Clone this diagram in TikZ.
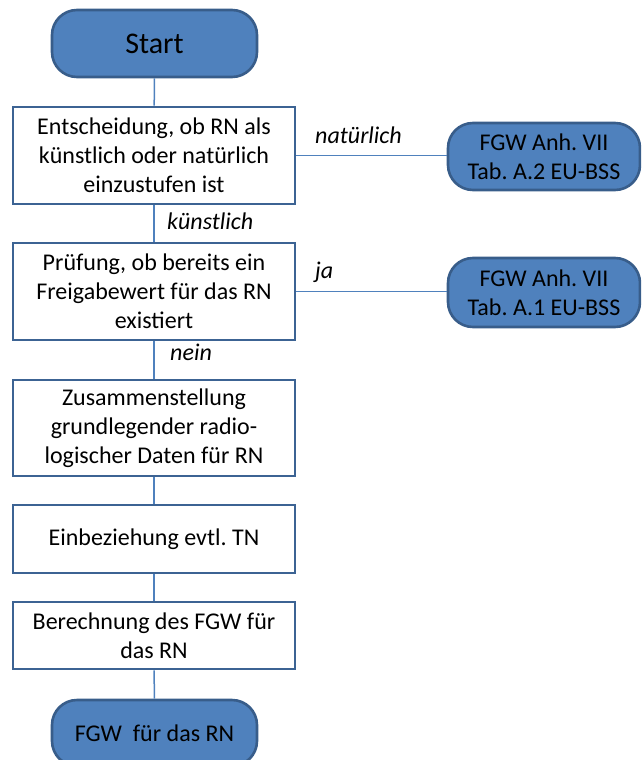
\documentclass[tikz,border=0pt]{standalone}
\usepackage{fontspec}
\setmainfont{Carlito}
\frenchspacing
\definecolor{accent}{HTML}{4F81BD}
\definecolor{accentdark}{HTML}{385D8A}
\definecolor{boxline}{HTML}{3C6393}
\begin{document}
\begin{tikzpicture}[x=1pt,y=-1pt,
  terminal/.style={draw=accentdark, line width=2.6pt, fill=accent, rounded corners=25pt,
    minimum width=205pt, minimum height=67pt, align=center, inner sep=0pt,
    font=\fontsize{24}{29}\selectfont},
  stepbox/.style={draw=boxline, line width=2.8pt, fill=white,
    minimum width=282pt, align=center, inner sep=0pt,
    font=\fontsize{24}{29}\selectfont},
  link/.style={draw=accent, line width=1.5pt},
  branch/.style={anchor=base west, inner sep=0pt, font=\fontsize{24}{29}\selectfont\itshape}]
\clip (0,0) rectangle (641,760);
\useasboundingbox (0,0) rectangle (641,760);

% main column
\node[terminal, font=\fontsize{30}{36}\selectfont] (start) at (154.5,43.5) {Start};
\node[stepbox, minimum height=97pt] (decide) at (154,155.5)
  {Entscheidung, ob RN als\\künstlich oder natürlich\\einzustufen ist};
\node[stepbox, minimum height=97pt] (check) at (154,291.5)
  {Prüfung, ob bereits ein\\Freigabewert für das RN\\existiert};
\node[stepbox, minimum height=96pt] (collect) at (154,428)
  {Zusammenstellung\\grundlegender radio-\\logischer Daten für RN};
\node[stepbox, minimum height=68pt] (include) at (154,539)
  {Einbeziehung evtl. TN};
\node[stepbox, minimum height=67pt] (compute) at (154,635.5)
  {Berechnung des FGW für\\das RN};
\node[terminal, minimum height=66pt] (result) at (154.5,733) {FGW\ \ für das RN};

% side results
\node[terminal, minimum width=192pt] (natural) at (544,156.5)
  {FGW Anh. VII\\Tab. A.2 EU-BSS};
\node[terminal, minimum width=192pt, minimum height=69pt] (existing) at (544,292.5)
  {FGW Anh. VII\\Tab. A.1 EU-BSS};

% connectors
\draw[link] (start) -- (decide);
\draw[link] (decide) -- (check);
\draw[link] (check) -- (collect);
\draw[link] (collect) -- (include);
\draw[link] (include) -- (compute);
\draw[link] (compute) -- (result);
\draw[link] (decide.east) -- (decide.east -| natural.west);
\draw[link] (check.east) -- (check.east -| existing.west);

% branch labels
\node[branch] (lnat) at (315,143) {natürlich};
\node[branch] (lja) at (315,278) {ja};
\node[branch] (lkue) at (167,229) {künstlich};
\node[branch] (lnein) at (170,360) {nein};
\end{tikzpicture}
\end{document}
